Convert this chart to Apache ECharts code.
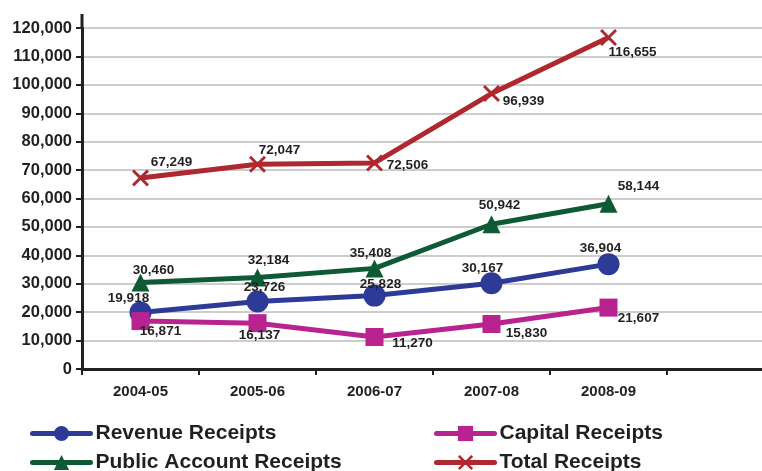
<!DOCTYPE html>
<html>
<head>
<meta charset="utf-8">
<script src="https://cdn.jsdelivr.net/npm/echarts@6/dist/echarts.min.js"></script>
<style>
html,body{margin:0;padding:0;background:#fff;}
#c{width:762px;height:471px;}
</style>
</head>
<body>
<div id="c"></div>
<script>
// ---- data ----
const categories = ['2004-05', '2005-06', '2006-07', '2007-08', '2008-09', ''];
const revenueReceipts = [19918, 23726, 25828, 30167, 36904];
const capitalReceipts = [16871, 16137, 11270, 15830, 21607];
const publicAccountReceipts = [30460, 32184, 35408, 50942, 58144];
const totalReceipts = [67249, 72047, 72506, 96939, 116655];

// ---- label placement (offsets from point centre, px) ----
const revenueOffsets = [[-12, -14], [7, -14], [6, -11], [-9, -15], [-8, -16]];
const capitalOffsets = [[20, 10], [2, 12], [38, 6], [35, 9], [30, 11]];
const publicOffsets = [[13, -12], [11, -17], [-4, -15], [8, -19], [30, -17]];
const totalOffsets = [[31, -16], [22, -14], [33, 2], [32, 8], [24, 15]];

const FONT = '"Liberation Sans", Arial, Helvetica, sans-serif';
const TXT = '#231f20';
const crossPath = 'path://M0,1.2L1.2,0L5,3.8L8.8,0L10,1.2L6.2,5L10,8.8L8.8,10L5,6.2L1.2,10L0,8.8L3.8,5Z';

function mk(values, offsets) {
  return values.map((v, i) => ({ value: v, label: { offset: offsets[i] } }));
}

function series(name, values, offsets, color, symbol, size) {
  return {
    name: name,
    type: 'line',
    data: mk(values, offsets),
    symbol: symbol,
    symbolSize: size,
    showAllSymbol: true,
    lineStyle: { color: color, width: 5 },
    itemStyle: { color: color },
    emphasis: { disabled: true },
    animation: false,
    label: {
      show: true,
      position: 'inside',
      align: 'center',
      verticalAlign: 'middle',
      color: TXT,
      fontFamily: FONT,
      fontWeight: 'bold',
      fontSize: 13.5,
      formatter: p => p.value.toLocaleString('en-US')
    }
  };
}

const chart = echarts.init(document.getElementById('c'), null, { renderer: 'canvas' });

const legendText = { color: TXT, fontFamily: FONT, fontWeight: 'bold', fontSize: 21 };
const legendCommon = {
  orient: 'vertical', top: 423, height: 80, padding: 0,
  itemWidth: 58, itemHeight: 19, itemGap: 8,
  textStyle: legendText, selectedMode: false,
  lineStyle: { width: 5, cap: 'round' }
};

chart.setOption({
  backgroundColor: '#fff',
  animation: false,
  grid: { left: 82, top: 28, bottom: 102, width: 702, containLabel: false, outerBoundsMode: 'none' },
  legend: [
    Object.assign({ data: ['Revenue Receipts', 'Public Account Receipts'], left: 30 }, legendCommon),
    Object.assign({ data: ['Capital Receipts', 'Total Receipts'], left: 434 }, legendCommon)
  ],
  xAxis: {
    type: 'category',
    data: categories,
    boundaryGap: true,
    axisLine: { lineStyle: { color: '#231f20', width: 3 } },
    axisTick: { show: true, length: 6, lineStyle: { color: '#231f20', width: 2 } },
    axisLabel: { color: TXT, fontFamily: FONT, fontWeight: 'bold', fontSize: 15, margin: 15 },
    splitLine: { show: false }
  },
  yAxis: {
    type: 'value',
    min: 0,
    max: 120000,
    interval: 10000,
    axisLine: { show: true, lineStyle: { color: '#231f20', width: 3 } },
    axisTick: { show: true, length: 6, lineStyle: { color: '#231f20', width: 2 } },
    axisLabel: { color: TXT, fontFamily: FONT, fontWeight: 'bold', fontSize: 16.5, margin: 10,
      formatter: v => v.toLocaleString('en-US') },
    splitLine: { show: true, lineStyle: { color: '#bdbdbd', width: 1.5 } }
  },
  series: [
    series('Revenue Receipts', revenueReceipts, revenueOffsets, '#2e3a97', 'circle', 22),
    series('Capital Receipts', capitalReceipts, capitalOffsets, '#b8238f', 'rect', 18),
    series('Public Account Receipts', publicAccountReceipts, publicOffsets, '#0e5a35', 'triangle', 18),
    series('Total Receipts', totalReceipts, totalOffsets, '#b0282f', crossPath, 17)
  ]
});

// extend the y axis line slightly above the top tick, as in the reference
const topPt = chart.convertToPixel({ gridIndex: 0 }, [0, 120000]);
const gridLeft = 82;
chart.setOption({
  graphic: [{
    type: 'line',
    shape: { x1: gridLeft, y1: topPt[1] - 14, x2: gridLeft, y2: topPt[1] },
    style: { stroke: '#231f20', lineWidth: 3 },
    silent: true
  }]
});
</script>
</body>
</html>
